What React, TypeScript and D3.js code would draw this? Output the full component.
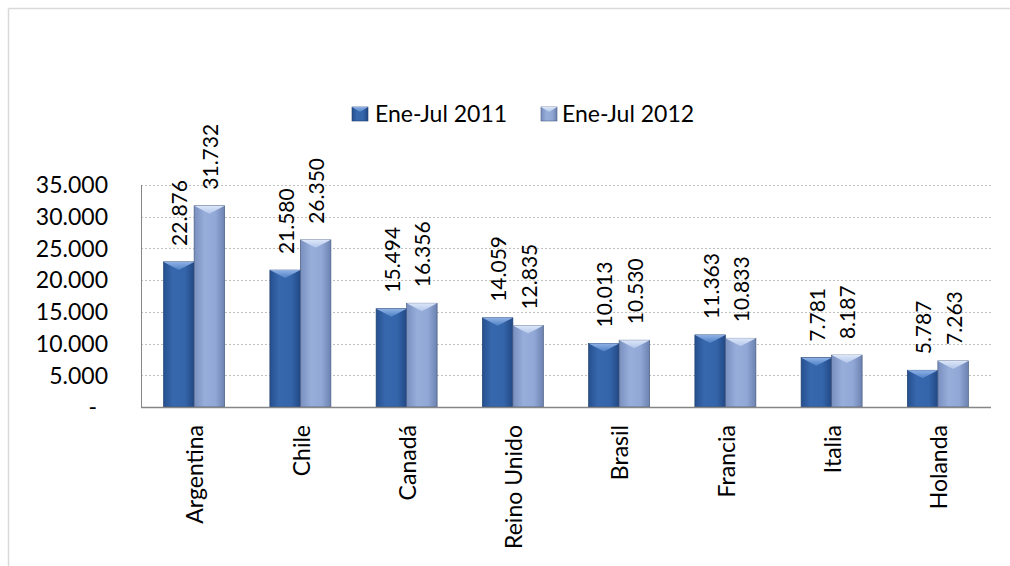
import React from "react";
import * as d3 from "d3";

const categories = ["Argentina", "Chile", "Canadá", "Reino Unido", "Brasil", "Francia", "Italia", "Holanda"];
const seriesNames = ["Ene-Jul 2011", "Ene-Jul 2012"];
const values2011 = [22876, 21580, 15494, 14059, 10013, 11363, 7781, 5787];
const values2012 = [31732, 26350, 16356, 12835, 10530, 10833, 8187, 7263];
const yTicks = [0, 5000, 10000, 15000, 20000, 25000, 30000, 35000];

const FONT = "Lato, 'Open Sans', sans-serif";

export default function App() {
  const left = 141, right = 991, top = 185, bottom = 407;
  const x0 = d3.scaleBand<string>().domain(categories).range([left, right]).paddingInner(0.426).paddingOuter(0.213);
  const x1 = d3.scaleBand<string>().domain(seriesNames).range([0, x0.bandwidth()]);
  const y = d3.scaleLinear().domain([0, 35000]).range([bottom, top]);
  const loc = d3.formatLocale({ decimal: ",", thousands: ".", grouping: [3], currency: ["", ""] });
  const fmt = loc.format(",.0f");
  const series = [values2011, values2012];
  const ids = ["s0", "s1"];

  const bar = (sx: number, w: number, v: number, si: number, key: string) => {
    const yt = y(v);
    const h = bottom - yt;
    const b = Math.min(8, h);
    return (
      <g key={key}>
        <rect x={sx} y={yt} width={w} height={h} fill={`url(#${ids[si]}g)`} stroke={si === 0 ? "#1f3f6e" : "#4a5c82"} strokeWidth={0.7} />
        <polygon points={`${sx},${yt} ${sx + w},${yt} ${sx + w / 2},${yt + b}`} fill={`url(#${ids[si]}t)`} />
      </g>
    );
  };

  return (
    <svg width={1010} height={566} style={{ position: "absolute", left: 0, top: 0, background: "#fff" }} fontFamily={FONT}>
      <defs>
        <linearGradient id="s0g" x1="0" x2="1" y1="0" y2="0">
          <stop offset="0" stopColor="#26508f" />
          <stop offset="0.3" stopColor="#3767ad" />
          <stop offset="0.7" stopColor="#3465aa" />
          <stop offset="1" stopColor="#224884" />
        </linearGradient>
        <linearGradient id="s1g" x1="0" x2="1" y1="0" y2="0">
          <stop offset="0" stopColor="#7990bf" />
          <stop offset="0.35" stopColor="#97aedb" />
          <stop offset="0.7" stopColor="#91a8d6" />
          <stop offset="1" stopColor="#6c82b0" />
        </linearGradient>
        <linearGradient id="s0t" x1="0" x2="0" y1="0" y2="1">
          <stop offset="0" stopColor="#8fb2e6" />
          <stop offset="1" stopColor="#4f80c4" />
        </linearGradient>
        <linearGradient id="s1t" x1="0" x2="0" y1="0" y2="1">
          <stop offset="0" stopColor="#dbe6f8" />
          <stop offset="1" stopColor="#b3c6ea" />
        </linearGradient>
      </defs>

      {/* chart border (cropped) */}
      <line x1={8.5} x2={1010} y1={8.5} y2={8.5} stroke="#d9d9d9" strokeWidth={1.5} />
      <line x1={8.5} x2={8.5} y1={8.5} y2={566} stroke="#d9d9d9" strokeWidth={1.5} />

      {/* gridlines */}
      {yTicks.filter((t) => t > 0).map((t) => (
        <line key={t} x1={left} x2={right} y1={Math.round(y(t)) + 0.5} y2={Math.round(y(t)) + 0.5} stroke="#bfbfbf" strokeDasharray="2,2" />
      ))}

      {/* y tick labels */}
      {yTicks.map((t) => (
        <text key={t} x={t === 0 ? 97 : 108} y={y(t)} dy="0.36em" textAnchor="end" fontSize={23} fill="#000">
          {t === 0 ? "-" : fmt(t)}
        </text>
      ))}

      {/* bars */}
      {categories.map((c, i) => (
        <g key={c}>
          {seriesNames.map((s, si) => bar((x0(c) as number) + (x1(s) as number), x1.bandwidth(), series[si][i], si, c + s))}
        </g>
      ))}

      {/* axes */}
      <line x1={left + 0.5} x2={left + 0.5} y1={top} y2={bottom} stroke="#868686" strokeWidth={1} />
      <line x1={left} x2={right} y1={bottom + 0.5} y2={bottom + 0.5} stroke="#868686" strokeWidth={1.5} />

      {/* data labels */}
      {categories.map((c, i) =>
        seriesNames.map((s, si) => {
          const cx = (x0(c) as number) + (x1(s) as number) + x1.bandwidth() / 2;
          const v = series[si][i];
          const yy = y(v) - 16;
          return (
            <text key={c + s} transform={`translate(${cx + 1},${yy}) rotate(-90)`} dy="0.36em" textAnchor="start" fontSize={21} fill="#000">
              {fmt(v)}
            </text>
          );
        })
      )}

      {/* category labels */}
      {categories.map((c) => {
        const cx = (x0(c) as number) + x0.bandwidth() / 2;
        return (
          <text key={c} transform={`translate(${cx + 1},425) rotate(-90)`} dy="0.36em" textAnchor="end" fontSize={23} fill="#000">
            {c}
          </text>
        );
      })}

      {/* legend */}
      {seriesNames.map((s, si) => {
        const lx = si === 0 ? 352 : 541;
        const tx = si === 0 ? 375 : 562;
        return (
          <g key={s}>
            <rect x={lx} y={107} width={16} height={14} fill={`url(#${ids[si]}g)`} stroke={si === 0 ? "#1f3f6e" : "#4a5c82"} strokeWidth={0.6} />
            <polygon points={`${lx},107 ${lx + 16},107 ${lx + 8},112`} fill={`url(#${ids[si]}t)`} />
            <text x={tx} y={114} dy="0.36em" fontSize={23} fill="#000">{s}</text>
          </g>
        );
      })}
    </svg>
  );
}
